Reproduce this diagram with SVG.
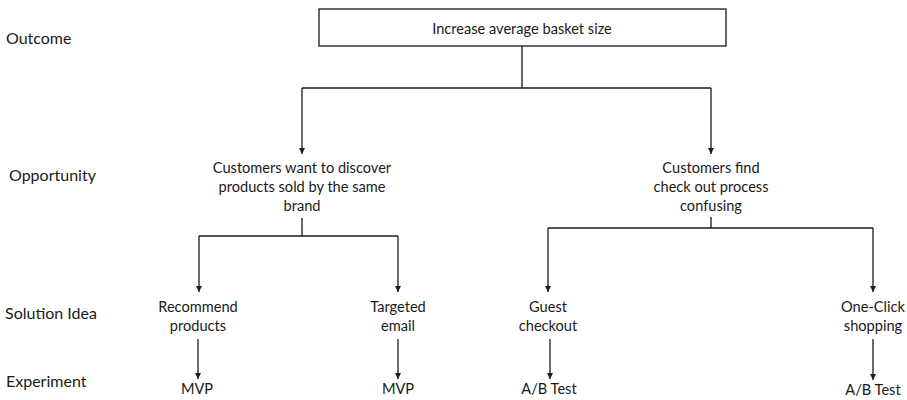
<svg xmlns="http://www.w3.org/2000/svg" width="907" height="400" viewBox="0 0 907 400">
<style>
text{font-family:Lato,"Liberation Sans",sans-serif;fill:#1a1a1a;}
.n{font-size:14.6px;text-anchor:middle;}
.lbl{font-size:16px;}
.c{fill:none;stroke:#1a1a1a;stroke-width:1.3;}
</style>
<defs>
<marker id="ah" viewBox="0 0 6 6" refX="6" refY="3" markerWidth="6" markerHeight="6" markerUnits="userSpaceOnUse" orient="auto">
<path d="M0,0 L6,3 L0,6 z" fill="#1a1a1a"/>
</marker>
</defs>
<rect width="907" height="400" fill="#fff"/>
<g id="labels">
<text class="lbl" x="6" y="44">Outcome</text>
<text class="lbl" x="9" y="181">Opportunity</text>
<text class="lbl" x="5" y="319">Solution Idea</text>
<text class="lbl" x="6" y="387">Experiment</text>
</g>
<g id="connectors">
<path class="c" d="M522,46 V88 M302,88 H711"/>
<path class="c" d="M302,88 V154" marker-end="url(#ah)"/>
<path class="c" d="M711,88 V154" marker-end="url(#ah)"/>
<path class="c" d="M302,218 V236 M199,236 H398"/>
<path class="c" d="M199,236 V292" marker-end="url(#ah)"/>
<path class="c" d="M398,236 V292" marker-end="url(#ah)"/>
<path class="c" d="M711,217 V228 M548,228 H873"/>
<path class="c" d="M548,228 V292" marker-end="url(#ah)"/>
<path class="c" d="M873,228 V292" marker-end="url(#ah)"/>
<path class="c" d="M198,339 V379" marker-end="url(#ah)"/>
<path class="c" d="M398,339 V379" marker-end="url(#ah)"/>
<path class="c" d="M550,339 V379" marker-end="url(#ah)"/>
<path class="c" d="M873,339 V380" marker-end="url(#ah)"/>
</g>
<g id="outcome">
<rect x="319" y="9" width="407" height="37" fill="#fff" stroke="#1a1a1a" stroke-width="1.3"/>
<text class="n" x="522" y="34">Increase average basket size</text>
</g>
<g id="opp1">
<text class="n" x="302" y="173">Customers want to discover</text>
<text class="n" x="302" y="192">products sold by the same</text>
<text class="n" x="302" y="211">brand</text>
</g>
<g id="opp2">
<text class="n" x="711" y="173">Customers find</text>
<text class="n" x="711" y="192">check out process</text>
<text class="n" x="711" y="211">confusing</text>
</g>
<g id="sol1">
<text class="n" x="198" y="312">Recommend</text>
<text class="n" x="198" y="331">products</text>
</g>
<g id="sol2">
<text class="n" x="398" y="312">Targeted</text>
<text class="n" x="398" y="331">email</text>
</g>
<g id="sol3">
<text class="n" x="548" y="312">Guest</text>
<text class="n" x="548" y="331">checkout</text>
</g>
<g id="sol4">
<text class="n" x="873" y="312">One-Click</text>
<text class="n" x="873" y="331">shopping</text>
</g>
<g id="exp1"><text class="n" x="197" y="394">MVP</text></g>
<g id="exp2"><text class="n" x="398" y="394">MVP</text></g>
<g id="exp3"><text class="n" x="549" y="394">A/B Test</text></g>
<g id="exp4"><text class="n" x="873" y="395">A/B Test</text></g>
</svg>
